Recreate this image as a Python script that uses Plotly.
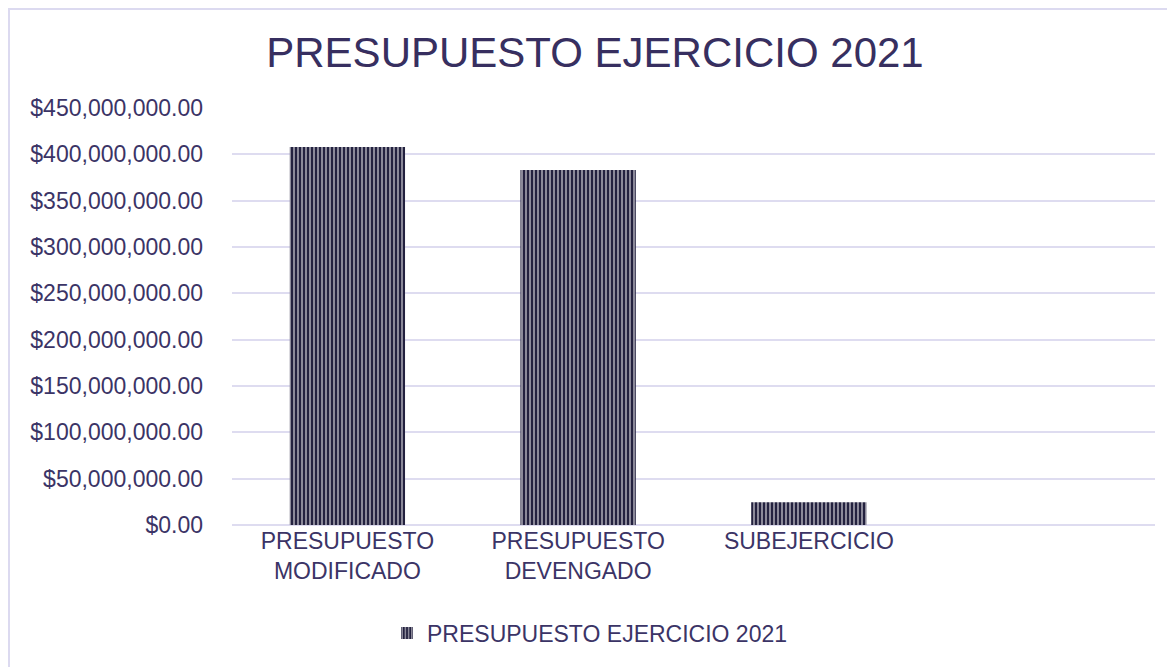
import plotly.graph_objects as go

categories = ["PRESUPUESTO<br>MODIFICADO", "PRESUPUESTO<br>DEVENGADO", "SUBEJERCICIO"]
values = [407_800_000, 383_200_000, 24_600_000]
series_name = "PRESUPUESTO EJERCICIO 2021"
tick_values = [0, 50e6, 100e6, 150e6, 200e6, 250e6, 300e6, 350e6, 400e6, 450e6]

# page has an 8px body margin; figure coordinates are offset by it
OFF = 8
W, H = 1175 - OFF, 667 - OFF
L, R, T, B = 232 - OFF, 20, 108 - OFF, 142
pw, ph = W - L - R, H - T - B

text_color = "#3b3466"
bar_color = "#23213f"
grid_color = "#dedcf0"
font = "Liberation Sans, Arial, sans-serif"

fig = go.Figure()
fig.add_trace(go.Bar(
    x=categories, y=values, name=series_name, width=0.5,
    marker=dict(color=bar_color, line=dict(width=0),
                pattern=dict(shape="|", fgcolor="white", bgcolor=bar_color,
                             size=4, solidity=0.47)),
    showlegend=True,
))

def fx(px):  # reference page px -> paper x
    return (px - OFF - L) / pw

def fy(py):  # reference page px -> paper y
    return (H - B - (py - OFF)) / ph

fig.update_layout(
    width=W, height=H,
    margin=dict(l=L, r=R, t=T, b=B),
    paper_bgcolor="white", plot_bgcolor="white",
    font=dict(family=font, color=text_color, size=23),
    title=dict(text=series_name, x=(595 - OFF) / W, xref="container", xanchor="center",
               y=1 - (52 - OFF) / H, yref="container", yanchor="middle",
               font=dict(size=42, color="#372f60", family=font)),
    showlegend=True,
    legend=dict(orientation="h", xref="container", yref="container",
                x=(590 - OFF) / W, xanchor="center", y=1 - (633 - OFF) / H, yanchor="middle",
                font=dict(size=23, color=text_color), itemwidth=30),
    xaxis=dict(type="category", categoryorder="array", categoryarray=categories,
               range=[-0.5, 3.5], showgrid=False, zeroline=False, showline=False,
               ticks="", tickfont=dict(size=23, color=text_color)),
    yaxis=dict(range=[0, 450e6], tickvals=tick_values, tickformat="$,.2f",
               showgrid=True, gridcolor=grid_color, gridwidth=1.5,
               zeroline=True, zerolinecolor=grid_color, zerolinewidth=1.5,
               showline=False, ticks="", ticklabelstandoff=28,
               tickfont=dict(size=23, color=text_color)),
    shapes=[dict(type="rect", xref="paper", yref="paper",
                 x0=fx(9), x1=fx(1185),
                 y0=fy(680), y1=fy(9),
                 line=dict(color="#dcdaf0", width=2), fillcolor="rgba(0,0,0,0)",
                 layer="below")],
)

fig.write_html("out.html")
